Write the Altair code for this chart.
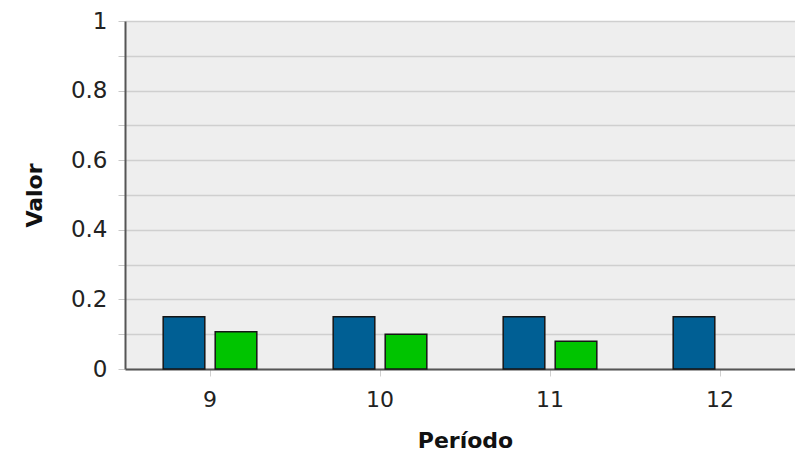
import altair as alt
import pandas as pd

periods = ["9", "10", "11", "12"]
series_names = ["Série 1", "Série 2"]
serie1 = [0.15, 0.15, 0.15, 0.15]
serie2 = [0.107, 0.10, 0.08, None]
colors = ["#005f94", "#00c400"]
y_ticks = [0, 0.1, 0.2, 0.3, 0.4, 0.5, 0.6, 0.7, 0.8, 0.9, 1.0]

rows = []
for i, p in enumerate(periods):
    for name, vals in zip(series_names, [serie1, serie2]):
        if vals[i] is not None:
            rows.append({"Período": p, "Série": name, "Valor": vals[i]})
df = pd.DataFrame(rows)

chart = alt.Chart(df).mark_bar(stroke="#151515", strokeWidth=1.5).encode(
    x=alt.X("Período:N", sort=periods,
            scale=alt.Scale(paddingInner=0.388, paddingOuter=0.194, range=[0, 680]),
            axis=alt.Axis(title="Período", labelAngle=0, labelFontSize=22,
                          labelColor="#222", titleFontSize=22, titleFontWeight="bold",
                          titleColor="#111", domainColor="#555", domainWidth=2,
                          tickColor="#d0d0d0", tickSize=7, labelPadding=13,
                          titlePadding=20, grid=False, labelFont="DejaVu Sans",
                          titleFont="DejaVu Sans")),
    xOffset=alt.XOffset("Série:N", sort=series_names,
                        scale=alt.Scale(paddingInner=0.2, paddingOuter=0.1)),
    y=alt.Y("Valor:Q", scale=alt.Scale(domain=[0, 1], nice=False),
            axis=alt.Axis(title="Valor", values=y_ticks, format="~g",
                          labelExpr="round(datum.value*10) % 2 == 0 ? datum.label : ''",
                          labelFontSize=23, labelColor="#222", titleFontSize=22,
                          titleFontWeight="bold", titleColor="#111",
                          domainColor="#555", domainWidth=2, tickColor="#c8c8c8",
                          tickSize=7, labelPadding=11, titlePadding=24,
                          gridColor="#cfcfcf", gridWidth=1.5,
                          labelFont="DejaVu Sans", titleFont="DejaVu Sans")),
    color=alt.Color("Série:N", sort=series_names,
                    scale=alt.Scale(domain=series_names, range=colors), legend=None),
).properties(
    width=670, height=348,
    autosize=alt.AutoSizeParams(type="none"),
    padding={"left": 117, "top": 13, "right": 0, "bottom": 84},
).configure_view(fill="#eeeeee", stroke=None)

chart.save("out.html", embed_options={"renderer": "svg", "actions": False})
